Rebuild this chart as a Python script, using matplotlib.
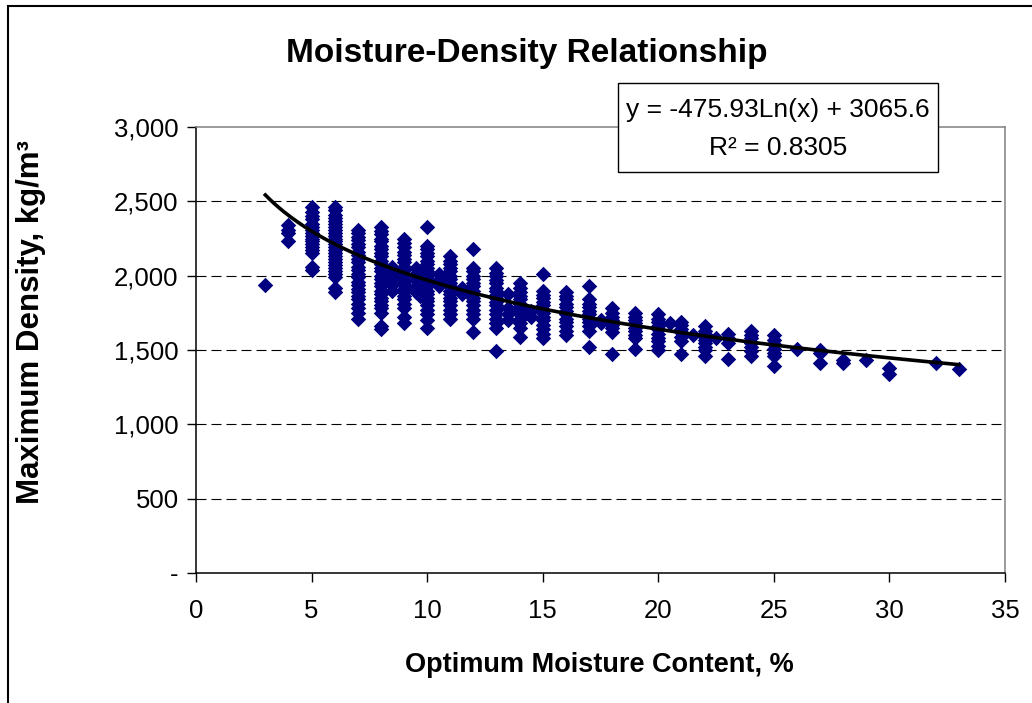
import matplotlib
matplotlib.use("Agg")
import matplotlib.pyplot as plt
import numpy as np
from matplotlib.patches import Rectangle

plt.rcParams['font.family'] = ['Liberation Sans', 'DejaVu Sans']

# ---- data: optimum moisture content (%) -> maximum density (kg/m3) ----
x3 = [1940]
x4 = [2340, 2310, 2290, 2230]
x5 = [2460, 2430, 2400, 2380, 2350, 2330, 2310, 2290, 2270, 2250, 2230, 2210,
      2190, 2170, 2150, 2060, 2040]
x6 = [2460, 2440, 2410, 2390, 2370, 2350, 2330, 2310, 2290, 2270, 2250, 2230,
      2210, 2190, 2170, 2150, 2130, 2110, 2090, 2070, 2050, 2030, 2010, 1990,
      1920, 1890]
x7 = [2310, 2290, 2260, 2240, 2210, 2190, 2160, 2140, 2110, 2090, 2060, 2040,
      2010, 1990, 1960, 1940, 1910, 1890, 1860, 1840, 1810, 1780, 1750, 1710]
x8 = [2330, 2300, 2280, 2250, 2230, 2200, 2180, 2150, 2130, 2100, 2080, 2050,
      2030, 2000, 1980, 1950, 1930, 1900, 1880, 1850, 1830, 1800, 1780, 1750,
      1660, 1640]
x8_5 = [2060, 2020, 1980, 1940, 1900]
x9 = [2250, 2220, 2190, 2160, 2140, 2110, 2090, 2060, 2040, 2010, 1990, 1960,
      1940, 1910, 1890, 1860, 1840, 1810, 1780, 1720, 1680]
x9_5 = [2050, 2010, 1970, 1930, 1890]
x9_7 = [1900, 1860]
x10 = [2330, 2200, 2180, 2150, 2130, 2100, 2080, 2050, 2030, 2000, 1980, 1950,
       1930, 1900, 1880, 1850, 1830, 1800, 1770, 1740, 1700, 1650]
x10_5 = [2010, 1970, 1930]
x11 = [2130, 2100, 2080, 2050, 2030, 2000, 1980, 1950, 1930, 1900, 1880, 1850,
       1830, 1800, 1770, 1740, 1710]
x11_5 = [1920, 1880]
x12 = [2180, 2050, 2030, 2000, 1980, 1950, 1930, 1900, 1880, 1850, 1830, 1800,
       1770, 1740, 1710, 1620]
x13 = [2050, 2020, 2000, 1970, 1950, 1920, 1900, 1870, 1850, 1820, 1800, 1770,
       1740, 1710, 1680, 1650, 1490]
x13_5 = [1880, 1780, 1740, 1700]
x14 = [1950, 1920, 1890, 1860, 1840, 1810, 1790, 1760, 1740, 1710, 1680, 1650,
       1590]
x14_5 = [1760, 1720]
x15 = [2010, 1900, 1870, 1850, 1820, 1800, 1770, 1750, 1720, 1700, 1670, 1640,
       1610, 1580]
x16 = [1890, 1860, 1840, 1810, 1790, 1760, 1740, 1710, 1690, 1660, 1630, 1600]
x17 = [1930, 1840, 1810, 1790, 1760, 1740, 1710, 1690, 1660, 1630, 1520]
x17_5 = [1700, 1680]
x18 = [1780, 1750, 1720, 1700, 1670, 1650, 1620, 1470]
x19 = [1750, 1720, 1700, 1680, 1650, 1630, 1600, 1580, 1510]
x20 = [1740, 1710, 1690, 1660, 1640, 1610, 1580, 1560, 1530, 1500]
x20_5 = [1680]
x21 = [1690, 1670, 1640, 1620, 1590, 1560, 1470]
x21_5 = [1600]
x22 = [1660, 1630, 1610, 1590, 1570, 1550, 1520, 1500, 1460]
x22_5 = [1580]
x23 = [1610, 1580, 1550, 1440]
x24 = [1630, 1600, 1580, 1550, 1520, 1490, 1460]
x25 = [1600, 1570, 1540, 1510, 1480, 1460, 1390]
x26 = [1510]
x27 = [1500, 1480, 1410]
x28 = [1430, 1410]
x29 = [1430]
x30 = [1380, 1340]
x32 = [1410]
x33 = [1370]

columns = {3: x3, 4: x4, 5: x5, 6: x6, 7: x7, 8: x8, 8.5: x8_5, 9: x9,
           9.5: x9_5, 9.7: x9_7, 10: x10, 10.5: x10_5, 11: x11, 11.5: x11_5,
           12: x12, 13: x13, 13.5: x13_5, 14: x14, 14.5: x14_5, 15: x15,
           16: x16, 17: x17, 17.5: x17_5, 18: x18, 19: x19, 20: x20,
           20.5: x20_5, 21: x21, 21.5: x21_5, 22: x22, 22.5: x22_5, 23: x23,
           24: x24, 25: x25, 26: x26, 27: x27, 28: x28, 29: x29, 30: x30,
           32: x32, 33: x33}

trend_a = -475.93
trend_b = 3065.6
trend_range = (3, 33)

x_ticks = [0, 5, 10, 15, 20, 25, 30, 35]
y_ticks = [0, 500, 1000, 1500, 2000, 2500, 3000]
y_tick_labels = ['-', '500', '1,000', '1,500', '2,000', '2,500', '3,000']

title = 'Moisture-Density Relationship'
x_label = 'Optimum Moisture Content, %'
y_label = 'Maximum Density, kg/m³'
eq_line1 = 'y = -475.93Ln(x) + 3065.6'
eq_line2 = 'R² = 0.8305'

# ---- figure ----
W, H = 1032, 703
fig = plt.figure(figsize=(W / 100, H / 100), dpi=100)

def fx(px):
    return px / W

def fy(py):
    return 1 - py / H

ax = fig.add_axes([fx(196), fy(573), fx(1005) - fx(196), fy(127) - fy(573)])

xs = []
ys = []
for xv, vals in columns.items():
    xs.extend([xv] * len(vals))
    ys.extend(vals)
ax.scatter(xs, ys, marker='D', s=62, color='#000080', linewidths=0, zorder=3)

xt = np.linspace(trend_range[0], trend_range[1], 300)
ax.plot(xt, trend_a * np.log(xt) + trend_b, color='black', lw=2.6, zorder=4)

ax.set_xlim(0, 35)
ax.set_ylim(0, 3000)
ax.set_xticks(x_ticks)
ax.set_xticklabels([str(t) for t in x_ticks])
ax.set_yticks(y_ticks)
ax.set_yticklabels(y_tick_labels)
ax.tick_params(axis='both', direction='out', length=6.5, width=1,
               colors='black', labelsize=18.5)
ax.tick_params(axis='x', pad=12)
ax.tick_params(axis='y', pad=6)

for yv in y_ticks[1:-1]:
    ax.axhline(yv, color='black', lw=0.8, linestyle=(0, (9, 4.5)), zorder=1)

ax.spines['left'].set_color('black')
ax.spines['bottom'].set_color('black')
ax.spines['top'].set_color('#808080')
ax.spines['right'].set_color('#808080')
for s in ax.spines.values():
    s.set_linewidth(1.1)

# titles
fig.text(fx(527), fy(62), title, ha='center', va='baseline',
         fontsize=24, fontweight='bold')
fig.text(fx(599), fy(672), x_label, ha='center', va='baseline',
         fontsize=19.5, fontweight='bold')
fig.text(fx(31), fy(322), y_label, ha='center', va='center', rotation=90,
         fontsize=22.5, fontweight='bold')

# equation box
fig.patches.append(Rectangle((fx(618), fy(172)), fx(938) - fx(618),
                             fy(83) - fy(172), transform=fig.transFigure,
                             facecolor='white', edgecolor='black', lw=1,
                             zorder=5))
fig.text(fx(778), fy(117), eq_line1, ha='center', va='baseline',
         fontsize=19, zorder=6)
fig.text(fx(778), fy(155), eq_line2, ha='center', va='baseline',
         fontsize=19, zorder=6)

# outer chart border
fig.patches.append(Rectangle((fx(8), -0.1), 1.2, fy(6) + 0.1,
                             transform=fig.transFigure, facecolor='none',
                             edgecolor='black', lw=1.5, zorder=10))

fig.savefig('out.png', dpi=100)
